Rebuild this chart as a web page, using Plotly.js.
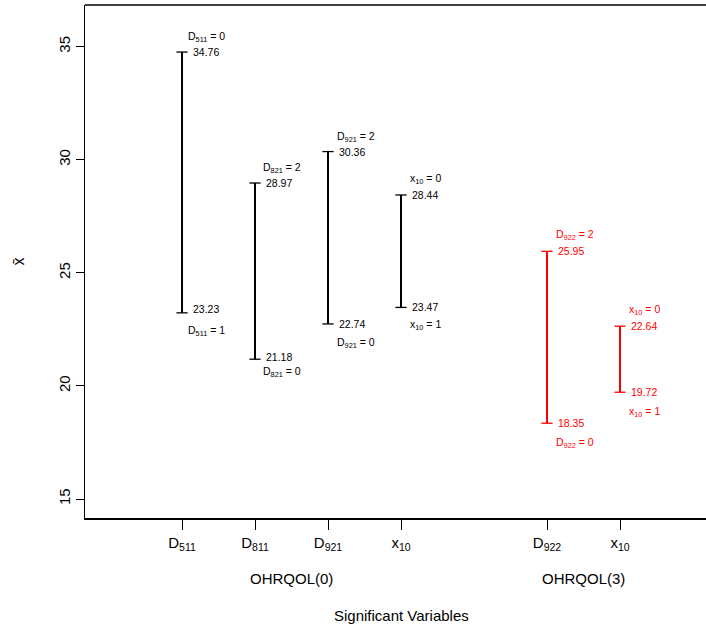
<!DOCTYPE html>
<html>
<head>
<meta charset="utf-8">
<script src="https://cdn.plot.ly/plotly-3.0.1.min.js"></script>
<style>html,body{margin:0;padding:0;background:#fff;}#chart{width:706px;height:628px;}</style>
</head>
<body>
<div id="chart"></div>
<script>
// ---- data ----
const tickLabels = ['D<sub>511</sub>', 'D<sub>811</sub>', 'D<sub>921</sub>', 'x<sub>10</sub>', 'D<sub>922</sub>', 'x<sub>10</sub>'];
const categoryPos = [1, 2, 3, 4, 6, 7];
const upperValues = [34.76, 28.97, 30.36, 28.44, 25.95, 22.64];
const lowerValues = [23.23, 21.18, 22.74, 23.47, 18.35, 19.72];
const upperNames = ['D<sub>511</sub> = 0', 'D<sub>821</sub> = 2', 'D<sub>921</sub> = 2', 'x<sub>10</sub> = 0', 'D<sub>922</sub> = 2', 'x<sub>10</sub> = 0'];
const lowerNames = ['D<sub>511</sub> = 1', 'D<sub>821</sub> = 0', 'D<sub>921</sub> = 0', 'x<sub>10</sub> = 1', 'D<sub>922</sub> = 0', 'x<sub>10</sub> = 1'];
const groupNames = ['OHRQOL(0)', 'OHRQOL(3)'];
const groupMembers = [[0, 1, 2, 3], [4, 5]];

// ---- styles / positions (not data) ----
const groupColors = ['#000000', '#ff0000'];
const upperNameShift = [17, 17, 17, 18, 18, 18];
const lowerNameShift = [16, 11, 17, 16, 18, 18];
const lowerValueShift = [4, 2, 0, 0, 0, 0];
const nameXShift = [4, 6, 7, 7, 7, 7];
const FONT = 'Liberation Sans, Arial, Helvetica, sans-serif';

const traces = groupMembers.map((idx, g) => {
  const xs = [], ys = [];
  idx.forEach(i => {
    xs.push(categoryPos[i], categoryPos[i], null);
    ys.push(lowerValues[i], upperValues[i], null);
  });
  return {
    type: 'scatter', mode: 'lines+markers', x: xs, y: ys,
    line: {color: groupColors[g], width: 2},
    marker: {symbol: 'line-ew-open', size: 8, color: groupColors[g], line: {color: groupColors[g], width: 1.3}},
    hoverinfo: 'skip', showlegend: false, cliponaxis: false
  };
});

const annotations = [];
groupMembers.forEach((idx, g) => {
  const col = groupColors[g];
  idx.forEach(i => {
    const base = {xref: 'x', yref: 'y', x: categoryPos[i], showarrow: false, xanchor: 'left', yanchor: 'middle',
                  font: {family: FONT, size: 10.5, color: col}};
    annotations.push(Object.assign({}, base, {y: upperValues[i], text: upperValues[i].toFixed(2), xshift: 9}));
    annotations.push(Object.assign({}, base, {y: lowerValues[i], text: lowerValues[i].toFixed(2), xshift: 9, yshift: lowerValueShift[i]}));
    annotations.push(Object.assign({}, base, {y: upperValues[i], text: upperNames[i], xshift: nameXShift[i], yshift: upperNameShift[i] - 2}));
    annotations.push(Object.assign({}, base, {y: lowerValues[i], text: lowerNames[i], xshift: nameXShift[i], yshift: -lowerNameShift[i] - 2}));
  });
  const mean = idx.reduce((s, i) => s + categoryPos[i], 0) / idx.length;
  annotations.push({xref: 'x', yref: 'paper', x: mean, y: 0, yshift: -60, showarrow: false,
                    xanchor: 'center', yanchor: 'middle', text: groupNames[g],
                    font: {family: FONT, size: 15, color: '#000'}});
});
annotations.push({xref: 'x', yref: 'paper', x: 4, y: 0, yshift: -97, showarrow: false,
                  xanchor: 'center', yanchor: 'middle', text: 'Significant Variables',
                  font: {family: FONT, size: 15, color: '#000'}});
annotations.push({xref: 'paper', yref: 'paper', x: 0, xshift: -67, y: 0.5, showarrow: false,
                  xanchor: 'center', yanchor: 'middle', text: 'x\u0304', textangle: -90,
                  font: {family: FONT, size: 16, color: '#000'}});

const layout = {
  width: 706, height: 628,
  margin: {l: 85, r: 0, t: 5, b: 110},
  paper_bgcolor: '#fff', plot_bgcolor: '#fff',
  font: {family: FONT, color: '#000'},
  xaxis: {
    range: [-0.329, 8.178], tickvals: categoryPos, ticktext: tickLabels,
    ticks: 'outside', ticklen: 10, tickwidth: 1, tickcolor: '#000',
    showline: true, linecolor: '#000', linewidth: 1.5, showgrid: false, zeroline: false,
    tickfont: {family: FONT, size: 15, color: '#000'}, fixedrange: true
  },
  yaxis: {
    range: [14.16, 36.84], tickvals: [15, 20, 25, 30, 35],
    ticks: 'outside', ticklen: 8, tickwidth: 1, tickcolor: '#000', tickangle: -90,
    showline: true, linecolor: '#000', linewidth: 1.5, showgrid: false, zeroline: false,
    tickfont: {family: FONT, size: 15, color: '#000'}, fixedrange: true
  },
  shapes: [{type: 'line', xref: 'paper', yref: 'paper', x0: 0, x1: 1, y0: 1, y1: 1, line: {color: '#000', width: 1.5}}],
  annotations: annotations,
  showlegend: false
};

Plotly.newPlot('chart', traces, layout, {displayModeBar: false, staticPlot: true});
</script>
</body>
</html>
